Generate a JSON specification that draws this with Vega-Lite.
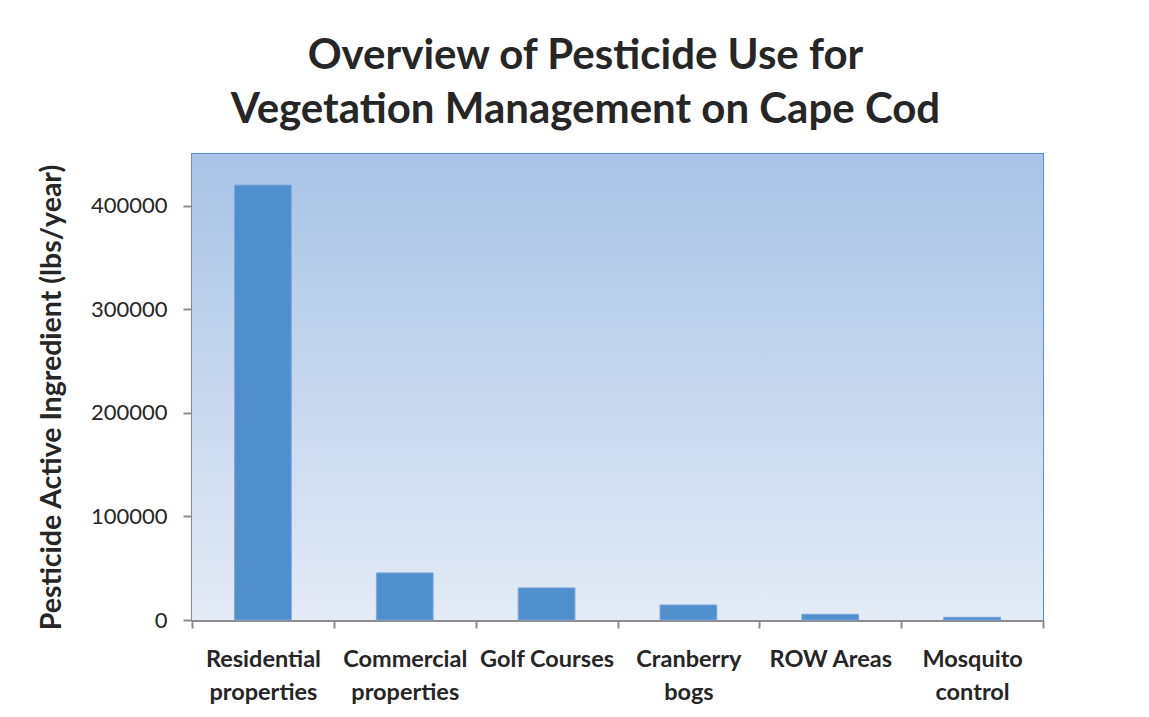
{
  "$schema": "https://vega.github.io/schema/vega-lite/v6.json",
  "width": 851,
  "height": 466,
  "autosize": {"type": "none"},
  "padding": {"left": 192, "top": 154, "right": 106, "bottom": 97},
  "background": "#ffffff",
  "title": {
    "text": ["Overview of Pesticide Use for", "Vegetation Management on Cape Cod"],
    "font": "Lato",
    "fontSize": 42,
    "fontWeight": "bold",
    "color": "#262626",
    "lineHeight": 54,
    "anchor": "middle",
    "frame": "group",
    "dx": -32,
    "offset": 22
  },
  "config": {
    "view": {"stroke": "#5a8fd0", "strokeWidth": 2}
  },
  "layer": [
    {
      "data": {"values": [{}]},
      "mark": {
        "type": "rect",
        "fill": {
          "gradient": "linear",
          "x1": 0, "y1": 0, "x2": 0, "y2": 1,
          "stops": [
            {"offset": 0, "color": "#a8c3e6"},
            {"offset": 1, "color": "#e3ebf6"}
          ]
        }
      },
      "encoding": {}
    },
    {
      "data": {
        "values": [
          {"category": "Residential properties", "lbs": 420000},
          {"category": "Commercial properties", "lbs": 45500},
          {"category": "Golf Courses", "lbs": 31000},
          {"category": "Cranberry bogs", "lbs": 14500},
          {"category": "ROW Areas", "lbs": 5500},
          {"category": "Mosquito control", "lbs": 2600}
        ]
      },
      "mark": {"type": "bar", "color": "#4f8fcd", "stroke": "#7aa7db", "strokeWidth": 1, "width": {"band": 0.4}},
      "encoding": {
        "x": {
          "field": "category",
          "type": "nominal",
          "sort": null,
          "scale": {"paddingInner": 0, "paddingOuter": 0},
          "axis": {
            "title": null,
            "labelAngle": 0,
            "labelFont": "Lato",
            "labelFontSize": 23.5,
            "labelFontWeight": "bold",
            "labelColor": "#262626",
            "labelLineHeight": 33,
            "labelPadding": 19,
            "labelBaseline": "top",
            "labelLimit": 0,
            "labelExpr": "datum.label == 'Golf Courses' || datum.label == 'ROW Areas' ? datum.label : split(datum.label, ' ')",
            "tickBand": "extent",
            "tickSize": 8,
            "tickColor": "#8c8c8c",
            "tickWidth": 2,
            "domainColor": "#8c8c8c",
            "domainWidth": 3,
            "grid": false
          }
        },
        "y": {
          "field": "lbs",
          "type": "quantitative",
          "scale": {"domain": [0, 450000], "nice": false},
          "axis": {
            "title": "Pesticide Active Ingredient (lbs/year)",
            "titleFont": "Lato",
            "titleFontSize": 28.5,
            "titleFontWeight": "bold",
            "titleColor": "#262626",
            "titleX": -126,
            "titleY": 243,
            "values": [0, 100000, 200000, 300000, 400000],
            "format": "d",
            "labelFont": "Lato",
            "labelFontSize": 22,
            "labelColor": "#262626",
            "labelPadding": 16,
            "tickSize": 9,
            "tickColor": "#8c8c8c",
            "tickWidth": 2,
            "domainColor": "#8c8c8c",
            "domainWidth": 3,
            "grid": true,
            "gridColor": "#8c8c8c",
            "gridWidth": 2
          }
        }
      }
    }
  ]
}
